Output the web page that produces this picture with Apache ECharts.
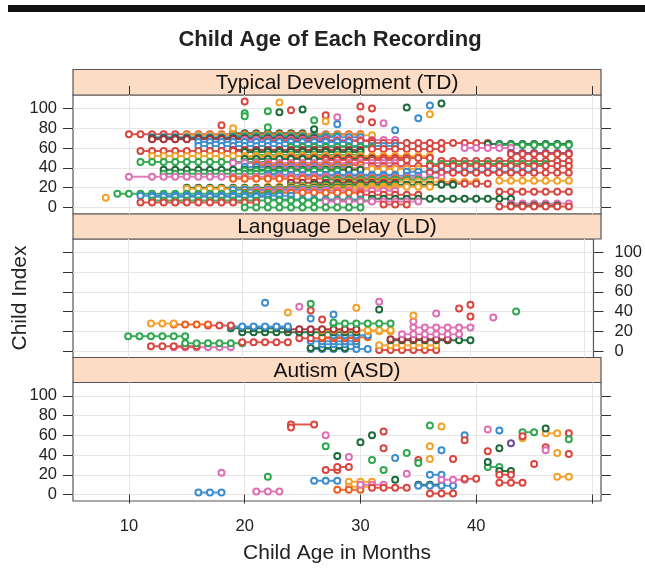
<!DOCTYPE html>
<html><head><meta charset="utf-8">
<script src="https://cdn.jsdelivr.net/npm/echarts@6/dist/echarts.min.js"></script>
<style>html,body{margin:0;padding:0;background:#fff}#c{width:645px;height:572px}</style>
</head><body><div id="c"></div>
<script>
// ---------- tick values ----------
const xTicks = [10, 20, 30, 40, 50];
const xLabels = [10, 20, 30, 40];
const yTicks = [0, 20, 40, 60, 80, 100];
const panelNames = ["Typical Development (TD)", "Language Delay (LD)", "Autism (ASD)"];

// ---------- TD children: index, colour group, recording ages ----------
const tdIdx = [75,74,73,72,71,70,69,68,67,66,65,64,63,62,61,60,59,58,57,56,55,54,53,52,51,50,49,48,47,46,45,44,43,42,41,40,39,38,37,36,35,34,33,32,31,30,29,28,27,26,25,24,23,22,21,20,19,18,17,16,15,14,13,12,11,10,9,8,7,6,5,4,3,2,1,0,
  107,106,105,103,102,101,100,99,98,97,96,95,94,93,92,91,90,89,88,87,86,85,84,83,81,80,79,78];
const tdKey = ["D","R","O","G","B","D","K","P","R","B","R","D","G","B","G","P","R","K","R","D","V","R","G","O","O","R","D","R","R","G","P","G","E","R","B","P","O","D","G","B","R","G","B","B","P","P","E","G","O","O","K","R","D","G","O","D","O","B","P","R","E","G","R","B","B","O","D","B","G","P","R","P","R","D","R","G",
  "R","O","D","B","R","D","R","D","R","G","D","G","O","R","G","P","B","R","G","O","R","P","B","R","G","O","D","B"];
const tdAges = [
  [19,20,21,22,23,24,25],
  [10,11,12,13,14,15,16,17,18,19,20,21,22,23,24,25,26,27,28,29,30],
  [15,16,17,18,19,20,21,22,23,24,25,26,27,28,29,30,31],
  [19,20,21,22,23,24,25,26,27,28],
  [12,13,14,15,16,17,18,19,20,21,22,23,24,25,26,27,28,29,30],
  [12,13,14,15,16,17,18,19,20,21,22,23,24,25,26],
  [12,13,14,15,16,17,18,19,20,21,22,23,24,25,26,27],
  [20,21,22,23,24,25,26,27,28,29,30,31,32,33],
  [22,23,24,25,26,27,28,29,30,31],
  [16,17,18,19,20,21,22,23,24,25,26,27,28,29],
  [31,32,33,34,35,36,37,38,39,40,41],
  [41,42,43,44,45,46,47,48],
  [42,43,44,45,46,47,48],
  [16,17,18,19,20,21,22,23,24,25,26,27,28,29,30,31,32,33],
  [24,25,26,27,28,29,30,31],
  [39,40,41,42,43],
  [31,32,33,34,35,36,37],
  [19,20,21,22,23,24,25,26,27,28,29,30],
  [11,12,13,14,15,16,17,18,19,20],
  [20,21,22,23,24,25,26,27,28,29,30],
  [43,44,45,46,47,48],
  [43,44,45,46,47,48],
  [21,22,23,24,25,26,27,28,29,30],
  [12,13,14,15,16,17,18,19,20,21,22,23,24,25,26,27,28,29,30,31,32,33,34,35,36],
  [20,21,22,23,24,25,26,27,28,29,30,31,32,33,34,35],
  [24,25,26,27,28,29,30,31,32,33,34,35,36],
  [20,21,22,23,24,25,26,27,28,29,30,31],
  [27,28,29,30,31,32,33,34],
  [37,38,39,40,41,42,43,44,45,46,47,48],
  [11,12,13,14,15,16,17,18,19,20,21,22],
  [19,20,21,22,23,24,25,26,27,28,29,30,31,32,33],
  [36,37,38,39,40,41,42,43,44,45,46],
  [21,22,23,24,25,26,27,28,29,30],
  [31,32,33,34,35,36,37,38,39,40,41,42,43,44,45,46,47,48],
  [20,21,22,23,24,25,26,27,28,29],
  [22,23,24,25,26,27,28,29,30,31,32,33,34],
  [27,28,29,30,31,32,33,34,35],
  [13,14,15,16,17,18,19,20,21,22,23,24,25,26,27,28,29,30],
  [20,21,22,23,24,25,26,27,28],
  [34,35,36,37,38,39,40,41,42,43,44,45],
  [36,37,38,39,40,41,42,43,44,45,46,47,48],
  [13,14,15,16,17,18,19,20,21,22,23],
  [22,23,24,25,26,27,28,29,30,31,32,33],
  [25,26,27,28,29,30,31,32,33,34,35],
  [10,12,13,14,15,16,17,18,19,20,21,22,23,24,25,26,27],
  [27,28,29,30,31,32,33,34,35,36,37],
  [19,20,21,22,23,24,25,26,27,28,29,30,31,32,33,34],
  [27,28,29,30,31,32,33,34,35,36],
  [42,43,44,45,46,47,48],
  [28,29,30,31,32,33,34,35,36,37,38,39,40],
  [24,25,26,27,28,29,30,31,32,33],
  [37,38,39,40,41],
  [26,27,28,29,30,31,32,33,34,35,36,37,38],
  [24,25,26,27,28,29,30,31,32,33],
  [22,23,24,25,26,27,28,29,30,31,32,33,34,35,36],
  [15,16,17,18,19,20,21,22,23,24,25,26,27,28,29],
  [15,16,17,18,19,20,21,22,23,24,25,26,27,28,29,30,31,32,33],
  [19,20,21,22,23,24,25,26,27],
  [21,22,23,24,25,26,27,28,29,30,31,32,33],
  [42,43,44,45,46,47,48],
  [20,21,22,23,24,25,26,27,28,29,30],
  [9,10,11,12,13,14,15,16,17,18,19,20,21,22,23],
  [30,31,32,33,34,35],
  [11,12,13,14,15,16,17,18,19,20,21,22,23,24],
  [12,13,14,15,16,17,18,19,20,21,22],
  [8],
  [31,32,33,34,35,36,37,38,39,40,41,42,43],
  [22,23,24,25,26,27,28,29,30],
  [12,13,14,15,16,17,18,19,20,21,22,23,24,25,26,27,28,29,30,31],
  [27,28,29,30,31,32,33,34,35],
  [11,12,13,14,15,16,17,18,19,20,21],
  [43,44,45,46,47,48],
  [32,33,34],
  [43,44,45,46,47],
  [42,43,44,45,46,47,48],
  [20,21,22,23,24,25,26,27,28,29,30],
  [20],[23],[37],[36],[30],[34],[31],[25],[24],[22],[23],[20],[36],[27],[20],[28],[35],[30],[26],[27],[31],[32],[28],[18],[22],[19],[26],[33]
];

// ---------- LD children ----------
const ldIdx = [1,2,3,4,5,6,7,8,9,10,11,12,13,14,15,16,17,19,20,21,22,23,24,25,26,27,28,28,
  30,32,33,34,35,36,37,38,39,40,41,42,43,44,45,47,48,49,50,29];
const ldKey = ["R","B","D","P","R","O","B","G","R","B","D","K","R","E","G","B","P","D","O","O","K","D","P","B","R","E","O","G",
  "P","R","B","P","R","O","B","P","O","G","R","D","R","O","P","R","G","B","P","G"];
const ldAges = [
  [32,33,34,35,36,37],[26,27,28,29,30,31],[26,27,28,29],[14,15,16,17,18,19],[12,13,14,15,16],
  [32,33,34,35,36,37],[27,28,29,30],[15,16,17,18,19,20],[20,21,22,23,24],[26,27,28,29,30],
  [33,34,35,36,37,38,39,40],[33,34,35,36,37,38],[25,26,27,28,29,30],[27,28,29,30,31],[10,11,12,13,14,15],
  [28,29,30,31],[34,35,36,37,38,39],[20,21,22,23,24,25,26,27,28,29,30],[31,32,33],[27,28,29,30,31,32,33],
  [24,25,26,27,28,29,30],[19,20,21,22,23,24],[35,36,37,38,39,40],[19,20,21,22,23,24],[17,18,19],
  [14,15,16,17],[12,13,14],[28,29,30,31,32,33],
  [35],[27],[26],[42],[40],[35],[28],[37],[24],[44],[26],[32],[39],[30],[25],[40],[26],[22],[32],[28]
];

// ---------- ASD children ----------
const asdIdx = [2,3,71,25,28,14,13,8,5,10,7,10,9,20,15,1,16,28,24,20,12,63,62,18,
  22,18,68,60,49,39,38,53,60,64,47,35,25,15,37,42,21,35,32,70,69,49,45,36,36,60,55,66,65,44,47,52,57,59,67,62,56,48,45,42,41,31,33];
const asdKey = ["B","P","R","R","R","B","O","O","E","P","R","D","B","B","P","R","R","G","D","R","R","G","O","O",
  "P","G","R","P","G","D","P","D","D","R","R","G","G","D","B","G","P","R","G","G","O","O","B","O","R","B","R","P","B","R","D","V","O","R","D","R","G","R","P","O","R","R","D"];
const asdAges = [
  [16,17,18],[21,22,23],[24,26],[27,28],[28,29],[26,27,28],[29,30,31],[29,30,31],[28,29,30],[30,31,32],
  [31,32,33,34],[35,36,37],[35,36,37,38],[36,37],[37,38,39],[36,37,38],[39,40],[41,42],[42,43],[42,43],
  [42,43,44],[44,45],[46,47],[47,48],
  [18],[22],[24],[27],[27],[28],[29],[30],[31],[32],[32],[31],[32],[33],[33],[34],[34],[35],[35],[36],[37],[36],[37],[36],[38],
  [39],[39],[41],[42],[41],[42],[43],[44],[44],[46],[48],[48],[46],[46],[47],[48],[45],[41]
];

// ---------- styling ----------
const PAL = {R:"#d9463f", G:"#2fa84f", D:"#1d6a3a", B:"#3a8dcf", O:"#f2a22a", P:"#de6fb5", E:"#ee5e1c", V:"#6b4c9a", K:"#a8323a"};
const FONT = "'Liberation Sans', Arial, sans-serif";
const X_MIN = 5.17, X_MAX = 50.78, Y_MIN = -6.5, Y_MAX = 113.5;
const L = 73, W = 528;
const plotTop = [95, 239, 382.5], plotH = [119, 118.5, 118.5];
const stripTop = [69.5, 214, 357.5], stripH = [25.5, 25, 25];

const grids = [], xAxes = [], yAxes = [], series = [];
for (let p = 0; p < 3; p++) {
  grids.push({left: L, width: W, top: plotTop[p], height: plotH[p], show: true, borderColor: "#555", borderWidth: 1.2, backgroundColor: "#fff"});
}
for (let p = 0; p < 3; p++) {
  grids.push({left: L, width: W, top: stripTop[p], height: stripH[p], show: true, borderColor: "#555", borderWidth: 1.2, backgroundColor: "#fcdcc4"});
}
const tickStyle = {color: "#333", width: 1};
for (let p = 0; p < 3; p++) {
  xAxes.push({gridIndex: p, type: "value", min: X_MIN, max: X_MAX, position: "bottom",
    axisLine: {show: false},
    axisTick: {show: p === 2, customValues: xTicks, length: 9, lineStyle: tickStyle},
    axisLabel: {show: p === 2, customValues: xLabels, fontSize: 16.5, color: "#222", fontFamily: FONT, margin: 17},
    splitLine: {show: true, lineStyle: {color: "#e6e6e6", width: 1}}});
}
for (let p = 0; p < 3; p++) {
  xAxes.push({gridIndex: 3 + p, type: "value", min: X_MIN, max: X_MAX, position: "top",
    axisLine: {show: false},
    axisTick: {show: p === 0, customValues: xTicks, length: 9, lineStyle: tickStyle},
    axisLabel: {show: false}, splitLine: {show: false}});
}
for (let p = 0; p < 3; p++) {
  yAxes.push({gridIndex: p, type: "value", min: Y_MIN, max: Y_MAX, position: "left",
    axisLine: {show: false},
    axisTick: {show: true, customValues: yTicks, length: 10, lineStyle: tickStyle},
    axisLabel: {show: p !== 1, customValues: yTicks, fontSize: 16.5, color: "#222", fontFamily: FONT, margin: 16},
    splitLine: {show: true, lineStyle: {color: "#e6e6e6", width: 1}}});
  yAxes.push({gridIndex: p, type: "value", min: Y_MIN, max: Y_MAX, position: "right",
    axisLine: {show: false},
    axisTick: {show: true, customValues: yTicks, length: 10, lineStyle: tickStyle},
    axisLabel: {show: p === 1, customValues: yTicks, fontSize: 16.5, color: "#222", fontFamily: FONT, margin: 21},
    splitLine: {show: false}});
}
for (let p = 0; p < 3; p++) {
  yAxes.push({gridIndex: 3 + p, type: "value", show: false, min: 0, max: 1});
}

function addPanel(p, idxArr, keyArr, agesArr) {
  for (let i = 0; i < idxArr.length; i++) {
    const c = PAL[keyArr[i]];
    series.push({type: "line", xAxisIndex: p, yAxisIndex: p * 2, silent: true, animation: false,
      data: agesArr[i].map(a => [a, idxArr[i]]),
      symbol: "emptyCircle", symbolSize: 6, showSymbol: true, showAllSymbol: true,
      lineStyle: {color: c, width: 2, opacity: 0.9},
      itemStyle: {color: c, borderColor: c, borderWidth: 1.4}, z: 3});
  }
}
addPanel(0, tdIdx, tdKey, tdAges);
addPanel(1, ldIdx, ldKey, ldAges);
addPanel(2, asdIdx, asdKey, asdAges);

const graphics = [
  {type: "rect", shape: {x: 8, y: 5, width: 640, height: 7}, style: {fill: "#111"}},
  {type: "text", x: 330, y: 40, style: {text: "Child Age of Each Recording", font: "bold 22px " + FONT, fill: "#222", textAlign: "center", textVerticalAlign: "middle"}},
  {type: "text", x: L + W / 2, y: 553, style: {text: "Child Age in Months", font: "21px " + FONT, fill: "#222", textAlign: "center", textVerticalAlign: "middle"}},
  {type: "text", x: 20, y: 298, rotation: Math.PI / 2, style: {text: "Child Index", font: "21px " + FONT, fill: "#222", textAlign: "center", textVerticalAlign: "middle"}}
];
for (let p = 0; p < 3; p++) {
  graphics.push({type: "text", x: L + W / 2, y: stripTop[p] + stripH[p] / 2 + 1, z: 10,
    style: {text: panelNames[p], font: "21px " + FONT, fill: "#111", textAlign: "center", textVerticalAlign: "middle"}});
}

const chart = echarts.init(document.getElementById("c"), null, {renderer: "canvas"});
chart.setOption({backgroundColor: "#fff", animation: false, grid: grids, xAxis: xAxes, yAxis: yAxes, series: series, graphic: graphics});
</script></body></html>
